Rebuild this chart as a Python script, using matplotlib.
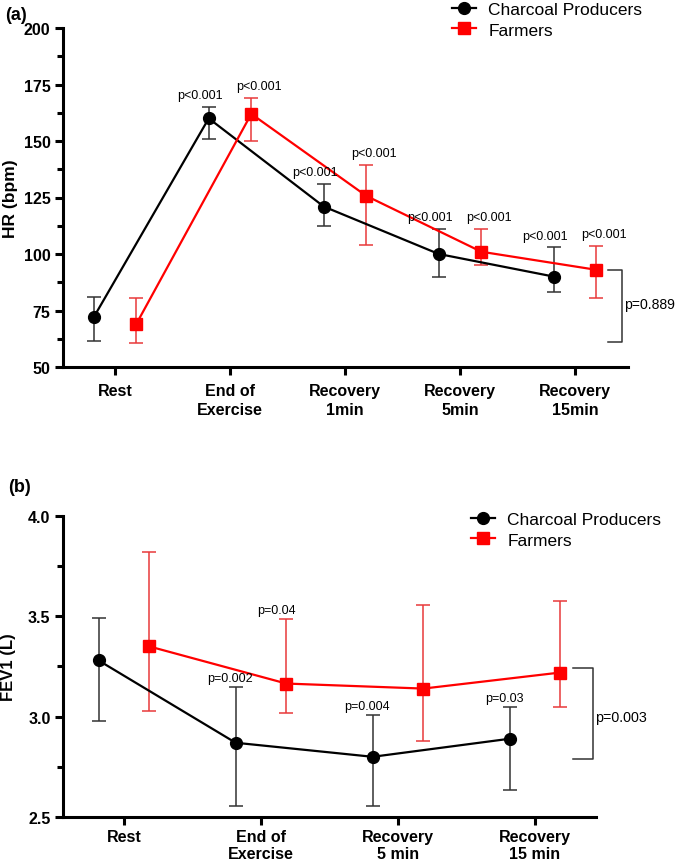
import matplotlib
matplotlib.use("Agg")
import matplotlib.pyplot as plt
from matplotlib.ticker import MultipleLocator
import numpy as np

plt.rcParams['font.family'] = ['Liberation Sans', 'DejaVu Sans']

# ---------------- Data: panel (a) HR ----------------
hr_categories = ["Rest", "End of\nExercise", "Recovery\n1min", "Recovery\n5min", "Recovery\n15min"]
hr_charcoal = [72, 160, 121, 100, 90]
hr_charcoal_lo = [61.5, 151, 112.5, 90, 83]
hr_charcoal_hi = [81, 165, 131, 111, 103]
hr_farmers = [69, 162, 125.7, 101, 93]
hr_farmers_lo = [60.5, 150, 104, 95, 80.5]
hr_farmers_hi = [80.5, 169, 139.5, 111, 103.5]
hr_pvals_charcoal = ["", "p<0.001", "p<0.001", "p<0.001", "p<0.001"]
hr_pvals_farmers = ["", "p<0.001", "p<0.001", "p<0.001", "p<0.001"]
hr_group_p = "p=0.889"

# ---------------- Data: panel (b) FEV1 ----------------
fev_categories = ["Rest", "End of\nExercise", "Recovery\n5 min", "Recovery\n15 min"]
fev_charcoal = [3.28, 2.87, 2.80, 2.89]
fev_charcoal_lo = [2.98, 2.555, 2.555, 2.635]
fev_charcoal_hi = [3.49, 3.15, 3.01, 3.05]
fev_farmers = [3.35, 3.165, 3.14, 3.22]
fev_farmers_lo = [3.03, 3.02, 2.88, 3.05]
fev_farmers_hi = [3.82, 3.485, 3.555, 3.575]
fev_pvals_charcoal = ["", "p=0.002", "p=0.004", "p=0.03"]
fev_pvals_farmers = ["", "p=0.04", "", ""]
fev_group_p = "p=0.003"

RED = "#ff0000"
ERR_BLACK = "#333333"
ERR_RED = "#e8393a"

fig = plt.figure(figsize=(6.78, 8.62), dpi=100)
W, H = 678, 862


def px_axes(l, t, r, b):
    return fig.add_axes([l / W, 1 - b / H, (r - l) / W, (b - t) / H])


def style_axes(ax, minor, xpad, lsp):
    for s in ("top", "right"):
        ax.spines[s].set_visible(False)
    for s in ("left", "bottom"):
        ax.spines[s].set_linewidth(2.2)
    ax.tick_params(axis="both", which="major", direction="out", length=6, width=2.2,
                   labelsize=11.5, pad=3)
    ax.tick_params(axis="x", which="major", pad=xpad)
    ax.tick_params(axis="y", which="minor", direction="out", length=4, width=2.2)
    ax.yaxis.set_minor_locator(MultipleLocator(minor))
    for lab in ax.get_xticklabels() + ax.get_yticklabels():
        lab.set_fontweight("bold")
    for lab in ax.get_xticklabels():
        lab.set_linespacing(lsp)


def draw_panel(ax, cats, c_vals, c_lo, c_hi, f_vals, f_lo, f_hi, off):
    x = np.arange(len(cats))
    xc = x - off
    xf = x + off
    c_vals = np.array(c_vals); f_vals = np.array(f_vals)
    ax.errorbar(xc, c_vals, yerr=[c_vals - np.array(c_lo), np.array(c_hi) - c_vals],
                fmt="none", ecolor=ERR_BLACK, elinewidth=1.1, capsize=5, capthick=1.1, zorder=2)
    ax.errorbar(xf, f_vals, yerr=[f_vals - np.array(f_lo), np.array(f_hi) - f_vals],
                fmt="none", ecolor=ERR_RED, elinewidth=1.1, capsize=5, capthick=1.1, zorder=2)
    l1, = ax.plot(xc, c_vals, color="black", lw=1.6, marker="o", ms=8.5, zorder=3,
                  label="Charcoal Producers")
    l2, = ax.plot(xf, f_vals, color=RED, lw=1.6, marker="s", ms=8, zorder=3,
                  label="Farmers")
    ax.set_xticks(x)
    ax.set_xticklabels(cats)
    return xc, xf, l1, l2


# ---------------- Panel (a) ----------------
axa = px_axes(63, 29, 628, 368)
xc, xf, l1, l2 = draw_panel(axa, hr_categories, hr_charcoal, hr_charcoal_lo, hr_charcoal_hi,
                            hr_farmers, hr_farmers_lo, hr_farmers_hi, 0.185)
axa.set_xlim(-0.452, 4.46)
axa.set_ylim(50, 200)
axa.set_yticks([50, 75, 100, 125, 150, 175, 200])
style_axes(axa, 12.5, 5.5, 1.3)
axa.set_ylabel("HR (bpm)", fontsize=12.5, fontweight="bold")
axa.yaxis.set_label_coords(-0.079, 0.5)

for i, p in enumerate(hr_pvals_charcoal):
    if p:
        axa.text(xc[i] - 0.08, hr_charcoal_hi[i] + 2.5, p, ha="center", va="bottom", fontsize=9)
for i, p in enumerate(hr_pvals_farmers):
    if p:
        axa.text(xf[i] + 0.07, hr_farmers_hi[i] + 2.5, p, ha="center", va="bottom", fontsize=9)

# bracket
bx0, bx1 = 4.29, 4.41
axa.plot([bx0, bx1, bx1, bx0], [93, 93, 61, 61], color="#333333", lw=1.1, clip_on=False)
axa.text(bx1 + 0.015, 78, hr_group_p, ha="left", va="center", fontsize=10.1)

fig.legend(handles=[l1, l2], loc="upper left", bbox_to_anchor=(452 / W, 1 - 3 / H),
           frameon=False, fontsize=12.5, handlelength=1.4, handletextpad=0.7,
           labelspacing=0.3, borderpad=0, borderaxespad=0)
fig.text(5 / W, 1 - 15 / H, "(a)", fontsize=13, fontweight="bold", ha="left", va="center")

# ---------------- Panel (b) ----------------
axb = px_axes(63, 517, 596, 818)
xc2, xf2, m1, m2 = draw_panel(axb, fev_categories, fev_charcoal, fev_charcoal_lo, fev_charcoal_hi,
                              fev_farmers, fev_farmers_lo, fev_farmers_hi, 0.185)
axb.set_xlim(-0.445, 3.445)
axb.set_ylim(2.5, 4.0)
axb.set_yticks([2.5, 3.0, 3.5, 4.0])
axb.yaxis.set_major_formatter(matplotlib.ticker.FormatStrFormatter("%.1f"))
style_axes(axb, 0.25, 3.0, 1.12)
axb.set_ylabel("FEV1 (L)", fontsize=12, fontweight="bold")
axb.yaxis.set_label_coords(-0.088, 0.5)

for i, p in enumerate(fev_pvals_charcoal):
    if p:
        axb.text(xc2[i] - 0.04, fev_charcoal_hi[i] + 0.015, p, ha="center", va="bottom", fontsize=9)
for i, p in enumerate(fev_pvals_farmers):
    if p:
        axb.text(xf2[i] - 0.07, fev_farmers_hi[i] + 0.015, p, ha="center", va="bottom", fontsize=9)

bx0, bx1 = 3.28, 3.42
axb.plot([bx0, bx1, bx1, bx0], [3.245, 3.245, 2.79, 2.79], color="#333333", lw=1.1, clip_on=False)
axb.text(bx1 + 0.02, 3.0, fev_group_p, ha="left", va="center", fontsize=10.3)

fig.legend(handles=[m1, m2], loc="upper left", bbox_to_anchor=(471 / W, 1 - 513 / H),
           frameon=False, fontsize=12.5, handlelength=1.4, handletextpad=0.7,
           labelspacing=0.3, borderpad=0, borderaxespad=0)
fig.text(8 / W, 1 - 487 / H, "(b)", fontsize=13, fontweight="bold", ha="left", va="center")

fig.savefig("out.png", dpi=100)
